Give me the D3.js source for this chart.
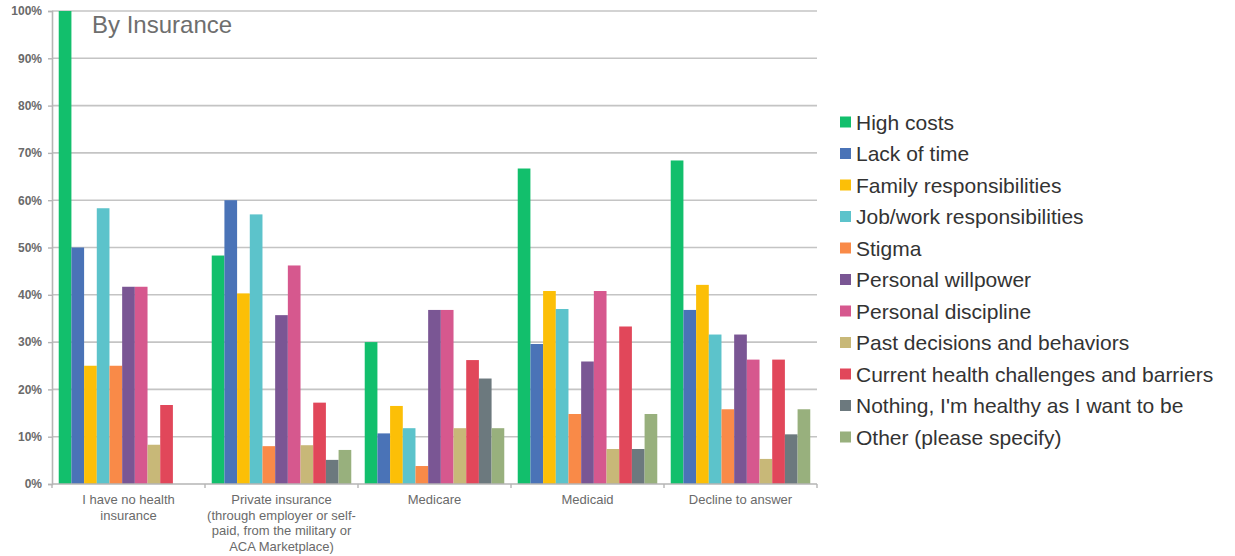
<!DOCTYPE html>
<html>
<head>
<meta charset="utf-8">
<script src="https://cdn.jsdelivr.net/npm/d3@7/dist/d3.min.js"></script>
<style>
  html, body { margin: 0; padding: 0; background: #fff; }
  svg { display: block; font-family: "Liberation Sans", Arial, sans-serif; }
</style>
</head>
<body>
<svg id="chart" width="1235" height="556"></svg>
<script>
const categories = [
  ["I have no health", "insurance"],
  ["Private insurance", "(through employer or self-", "paid, from the military or", "ACA Marketplace)"],
  ["Medicare"],
  ["Medicaid"],
  ["Decline to answer"]
];
const seriesNames = [
  "High costs", "Lack of time", "Family responsibilities", "Job/work responsibilities",
  "Stigma", "Personal willpower", "Personal discipline", "Past decisions and behaviors",
  "Current health challenges and barriers", "Nothing, I'm healthy as I want to be",
  "Other (please specify)"
];
const seriesColors = [
  "#12bf6c", "#4a73b7", "#fcbf07", "#5cc3cb", "#f98a48", "#7a5694",
  "#d6588e", "#c8b878", "#e1475a", "#6c797e", "#98b07d"
];
// values per series, in category order
const highCosts   = [100, 48.3, 30.0, 66.7, 68.4];
const lackOfTime  = [50.0, 60.0, 10.7, 29.6, 36.8];
const family      = [25.0, 40.3, 16.5, 40.8, 42.1];
const jobWork     = [58.3, 57.0, 11.8, 37.0, 31.6];
const stigma      = [25.0, 8.0, 3.8, 14.8, 15.8];
const willpower   = [41.7, 35.7, 36.8, 25.9, 31.6];
const discipline  = [41.7, 46.2, 36.8, 40.8, 26.3];
const pastDec     = [8.3, 8.2, 11.8, 7.4, 5.3];
const currentHlth = [16.7, 17.2, 26.2, 33.3, 26.3];
const nothing     = [0, 5.1, 22.3, 7.4, 10.5];
const other       = [0, 7.2, 11.8, 14.8, 15.8];
const seriesValues = [highCosts, lackOfTime, family, jobWork, stigma, willpower,
  discipline, pastDec, currentHlth, nothing, other];
const yTicks = [0, 10, 20, 30, 40, 50, 60, 70, 80, 90, 100];
const title = "By Insurance";

const svg = d3.select("#chart");
const pLeft = 52, pRight = 817, pTop = 11, pBottom = 484;

const x0 = d3.scaleBand().domain(d3.range(categories.length)).range([pLeft, pRight]).padding(0);
const bw = x0.bandwidth();
const x1 = d3.scaleBand().domain(d3.range(seriesNames.length)).range([bw * 0.044, bw * 0.956]).padding(0);
const y = d3.scaleLinear().domain([0, 100]).range([pBottom, pTop]);

// gridlines
svg.append("g").selectAll("line").data(yTicks.filter(t => t > 0)).join("line")
  .attr("x1", pLeft).attr("x2", pRight)
  .attr("y1", d => y(d)).attr("y2", d => y(d))
  .attr("stroke", "#c4c4c4").attr("stroke-width", 1.6);

// y axis
const yAxis = d3.axisLeft(y).tickValues(yTicks).tickFormat(d => d + "%").tickSize(4).tickPadding(6);
const gy = svg.append("g").attr("transform", `translate(${pLeft},0)`).call(yAxis);
gy.select(".domain").attr("stroke", "#b5b5b5").attr("stroke-width", 1.6);
gy.selectAll(".tick line").attr("stroke", "#b5b5b5").attr("stroke-width", 1.4);
gy.selectAll(".tick text").attr("fill", "#6a6a6a").attr("font-size", 12)
  .attr("font-weight", "bold").attr("font-family", "Liberation Sans, Arial, sans-serif");

// bars
const groups = svg.append("g").selectAll("g").data(categories).join("g")
  .attr("transform", (d, i) => `translate(${x0(i)},0)`);
groups.each(function(c, ci) {
  d3.select(this).selectAll("rect").data(seriesValues.map((s, si) => ({si, v: s[ci]})))
    .join("rect")
    .attr("x", d => x1(d.si))
    .attr("width", x1.bandwidth())
    .attr("y", d => y(d.v))
    .attr("height", d => y(0) - y(d.v))
    .attr("fill", d => seriesColors[d.si]);
});

// x axis
const gx = svg.append("g").attr("transform", `translate(0,${pBottom})`);
gx.append("line").attr("x1", pLeft).attr("x2", pRight).attr("y1", 0).attr("y2", 0)
  .attr("stroke", "#b5b5b5").attr("stroke-width", 1.6);
gx.selectAll("line.tk").data(d3.range(categories.length + 1)).join("line").attr("class", "tk")
  .attr("x1", i => pLeft + i * bw).attr("x2", i => pLeft + i * bw)
  .attr("y1", 0).attr("y2", 4).attr("stroke", "#b5b5b5").attr("stroke-width", 1.4);
categories.forEach((lines, i) => {
  const t = gx.append("text").attr("text-anchor", "middle")
    .attr("fill", "#6a6a6a").attr("font-size", 13)
    .attr("transform", `translate(${x0(i) + bw / 2},20)`);
  lines.forEach((ln, k) => t.append("tspan").attr("x", 0).attr("y", k * 15.5).text(ln));
});

// title
svg.append("text").attr("x", 92).attr("y", 33).attr("fill", "#6e6e6e")
  .attr("font-size", 24).text(title);

// legend
const lg = svg.append("g").attr("transform", "translate(840,0)");
seriesNames.forEach((name, i) => {
  const cy = 122 + i * 31.5;
  lg.append("rect").attr("x", 0).attr("y", cy - 5.5).attr("width", 11).attr("height", 11)
    .attr("fill", seriesColors[i]);
  lg.append("text").attr("x", 16).attr("y", cy + 7.5).attr("fill", "#333")
    .attr("font-size", 21).text(name);
});
</script>
</body>
</html>
